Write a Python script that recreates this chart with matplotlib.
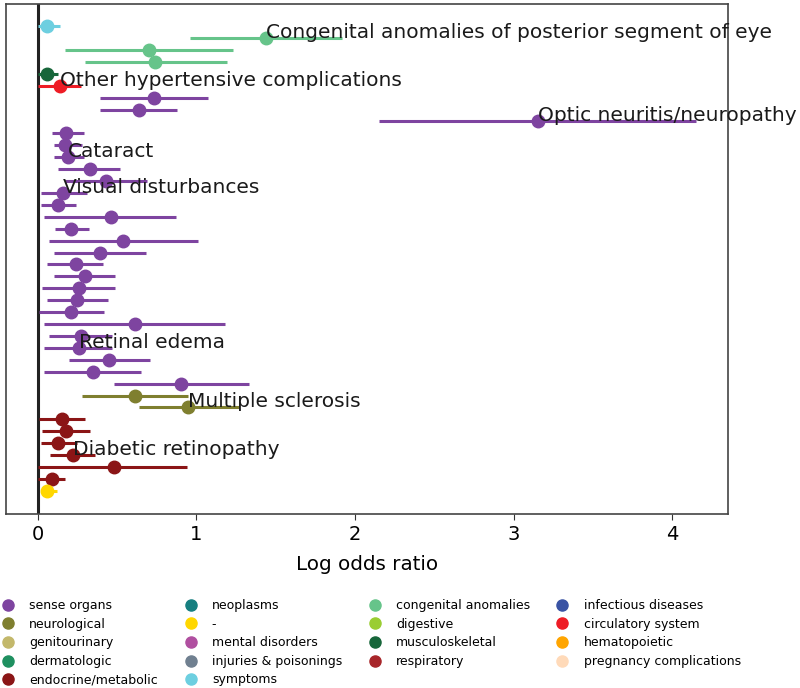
import matplotlib
matplotlib.use("Agg")
import matplotlib.pyplot as plt
from matplotlib.lines import Line2D

# category colours (legend order, column-major)
categories = [
    "sense organs", "neurological", "genitourinary", "dermatologic", "endocrine/metabolic",
    "neoplasms", "-", "mental disorders", "injuries & poisonings", "symptoms",
    "congenital anomalies", "digestive", "musculoskeletal", "respiratory",
    "infectious diseases", "circulatory system", "hematopoietic", "pregnancy complications",
]
colors = [
    "#7e44a0", "#7f7f2f", "#c3b86b", "#1f9060", "#8b1516",
    "#167f80", "#ffd700", "#b04fa0", "#708090", "#6dcfe0",
    "#66c48a", "#9acd32", "#17663a", "#a8262a",
    "#3953a4", "#ee1c25", "#ffa500", "#ffdab9",
]

# one entry per row, top to bottom
row_cat = (["symptoms"] + ["congenital anomalies"] * 3 + ["musculoskeletal", "circulatory system"]
           + ["sense organs"] * 25 + ["neurological"] * 2 + ["endocrine/metabolic"] * 6 + ["-"])
log_or = [0.06, 1.44, 0.70, 0.74, 0.06, 0.14,
          0.73, 0.64, 3.15, 0.18, 0.17, 0.19, 0.33, 0.43, 0.16, 0.13, 0.46, 0.21, 0.54, 0.39,
          0.24, 0.30, 0.26, 0.25, 0.21, 0.61, 0.27, 0.26, 0.45, 0.35, 0.90,
          0.61, 0.95,
          0.15, 0.18, 0.13, 0.22, 0.48, 0.09,
          0.06]
ci_lo = [0.00, 0.96, 0.17, 0.30, 0.00, 0.00,
         0.39, 0.39, 2.15, 0.09, 0.10, 0.10, 0.13, 0.17, 0.02, 0.02, 0.04, 0.11, 0.07, 0.10,
         0.06, 0.10, 0.03, 0.06, 0.01, 0.04, 0.07, 0.04, 0.20, 0.04, 0.48,
         0.28, 0.64,
         0.01, 0.03, 0.02, 0.08, 0.00, 0.00,
         0.02]
ci_hi = [0.14, 1.92, 1.23, 1.19, 0.13, 0.27,
         1.07, 0.88, 4.15, 0.29, 0.28, 0.29, 0.52, 0.69, 0.31, 0.24, 0.87, 0.32, 1.01, 0.68,
         0.41, 0.49, 0.49, 0.44, 0.42, 1.18, 0.47, 0.47, 0.71, 0.65, 1.33,
         0.95, 1.27,
         0.30, 0.33, 0.25, 0.36, 0.94, 0.17,
         0.12]

# annotated rows
notes = {
    1: "Congenital anomalies of posterior segment of eye",
    5: "Other hypertensive complications",
    8: "Optic neuritis/neuropathy",
    11: "Cataract",
    14: "Visual disturbances",
    27: "Retinal edema",
    32: "Multiple sclerosis",
    36: "Diabetic retinopathy",
}

cmap = dict(zip(categories, colors))

fig = plt.figure(figsize=(8, 6.88), dpi=100)
ax = fig.add_axes([0.0075, 0.253, 0.9025, 0.741])

ax.axvline(0, color="#222222", lw=2.2, zorder=1)
for i, (cat, v, lo, hi) in enumerate(zip(row_cat, log_or, ci_lo, ci_hi)):
    c = cmap[cat]
    ax.plot([lo, hi], [i, i], color=c, lw=2.2, solid_capstyle="butt", zorder=2)
    ax.plot(v, i, "o", color=c, ms=9, zorder=3)
    if i in notes:
        ax.text(v, i, notes[i], fontsize=14.5, color="#1a1a1a", zorder=4, clip_on=False)

ax.set_xlim(-0.2, 4.35)
ax.set_ylim(40.94, -1.85)
ax.set_yticks([])
ax.set_xticks(range(5))
ax.tick_params(axis="x", labelsize=14, length=4.5, color="#333333")
ax.set_xlabel("Log odds ratio", fontsize=14.3, labelpad=8)
for s in ax.spines.values():
    s.set_color("#444444")
    s.set_linewidth(1.2)

handles = [Line2D([], [], ls="none", marker="o", ms=8, color=c) for c in colors]
fig.legend(handles, categories, loc="upper left", bbox_to_anchor=(-0.004, 1 - 594 / 688),
           ncol=4, frameon=False, fontsize=9, handlelength=1.0, handletextpad=1.2,
           columnspacing=2.1, labelspacing=0.45, borderaxespad=0)

fig.savefig("out.png", dpi=100)
